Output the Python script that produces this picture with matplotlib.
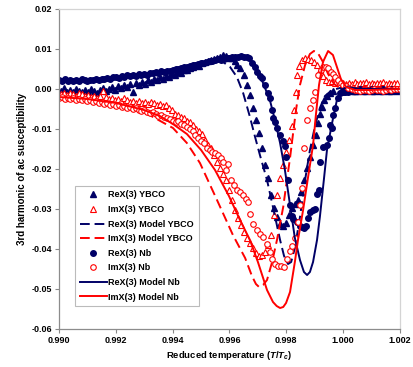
import matplotlib
matplotlib.use("Agg")
import matplotlib.pyplot as plt

plt.rcParams['font.family'] = ['Liberation Sans', 'DejaVu Sans']
plt.rcParams['font.weight'] = 'bold'
plt.rcParams['mathtext.fontset'] = 'custom'
plt.rcParams['mathtext.rm'] = 'Liberation Sans:bold'
plt.rcParams['mathtext.it'] = 'Liberation Sans:italic:bold'

# ---------------- data ----------------
# ReX(3) YBCO (filled navy triangles)
rex_ybco_t = [0.99007, 0.99018, 0.99028, 0.99039, 0.99049, 0.99060, 0.99070, 0.99081, 0.99091, 0.99102,
              0.99113, 0.99123, 0.99134, 0.99144, 0.99155, 0.99165, 0.99176, 0.99187, 0.99197, 0.99208,
              0.99218, 0.99229, 0.99239, 0.99250, 0.99260, 0.99271, 0.99282, 0.99292, 0.99303, 0.99313,
              0.99324, 0.99334, 0.99345, 0.99355, 0.99366, 0.99377, 0.99387, 0.99398, 0.99408, 0.99419,
              0.99429, 0.99440, 0.99450, 0.99461, 0.99472, 0.99482, 0.99493, 0.99503, 0.99514, 0.99524,
              0.99535, 0.99545, 0.99556, 0.99567, 0.99577, 0.99588, 0.99598, 0.99609, 0.99619, 0.99626,
              0.99637, 0.99651, 0.99662, 0.99672, 0.99683, 0.99693, 0.99704, 0.99714, 0.99725, 0.99735,
              0.99746, 0.99757, 0.99767, 0.99778, 0.99789, 0.99799, 0.99810, 0.99820, 0.99830, 0.99841,
              0.99852, 0.99862, 0.99873, 0.99883, 0.99894, 0.99904, 0.99911, 0.99918, 0.99925, 0.99932,
              0.99943, 0.99954, 0.99964,
              1.0000, 1.0001, 1.0002, 1.0003, 1.0004, 1.0005, 1.0006, 1.0007, 1.0008, 1.0009,
              1.0010, 1.0011, 1.0012, 1.0013, 1.0014, 1.0015, 1.0016, 1.0017, 1.0018, 1.0019]
rex_ybco_v = [-0.0005, 0.00025, -0.00075, -0.00025, -0.00075, 0.0, -0.0005, -0.00075, -0.00025, -0.00075,
              0.0, -0.0005, -0.001, -0.00025, 0.00025, -0.0005, 0.0, 0.0005, -0.00025, 0.00075,
              0.00025, 0.001, 0.0005, 0.00125, -0.00075, 0.0015, 0.001, 0.00175, 0.00125, 0.00225,
              0.00175, 0.0025, 0.00225, 0.003, 0.0025, 0.00325, 0.003, 0.00375, 0.0035, 0.00425,
              0.004, 0.00475, 0.00475, 0.00525, 0.0055, 0.006, 0.00575, 0.0065, 0.00675, 0.007,
              0.00725, 0.0075, 0.00775, 0.008, 0.0085, 0.00825, 0.00775, 0.00775, 0.007, 0.006,
              0.00525, 0.0035, 0.001, -0.0015, -0.00475, -0.00775, -0.011, -0.01475, -0.019, -0.02225,
              -0.0265, -0.02975, -0.032, -0.03375, -0.03425, -0.0335, -0.0315, -0.02975, -0.02875, -0.02775,
              -0.02575, -0.02275, -0.01975, -0.017, -0.014, -0.0115, -0.0085, -0.00625, -0.0045, -0.00275,
              -0.00175, -0.001, -0.0005,
              -0.0004, -0.0006, -0.0003, -0.0005, -0.0004, -0.0006, -0.0003, -0.0005, -0.0004, -0.0002,
              -0.0005, -0.0004, -0.0003, -0.0005, -0.0004, -0.0002, -0.0004, -0.0005, -0.0003, -0.0004]

# ImX(3) YBCO (open red triangles)
imx_ybco_t = [0.99007, 0.99018, 0.99028, 0.99039, 0.99049, 0.99060, 0.99070, 0.99081, 0.99091, 0.99102,
              0.99113, 0.99123, 0.99134, 0.99144, 0.99155, 0.99165, 0.99176, 0.99187, 0.99197, 0.99208,
              0.99218, 0.99229, 0.99239, 0.99250, 0.99260, 0.99271, 0.99282, 0.99292, 0.99303, 0.99313,
              0.99324, 0.99334, 0.99345, 0.99355, 0.99366, 0.99377, 0.99387, 0.99398, 0.99408, 0.99419,
              0.99429, 0.99440, 0.99450, 0.99461, 0.99472, 0.99482, 0.99493, 0.99503, 0.99514, 0.99524,
              0.99535, 0.99545, 0.99556, 0.99567, 0.99577, 0.99588, 0.99598, 0.99609, 0.99619, 0.99630,
              0.99640, 0.99651, 0.99662, 0.99672, 0.99683, 0.99693, 0.99704, 0.99714, 0.99725, 0.99735,
              0.99746, 0.99757, 0.99767, 0.99778, 0.99789, 0.99799, 0.99810, 0.99820, 0.99827, 0.99834,
              0.99838, 0.99845, 0.99855, 0.99866, 0.99876, 0.99887, 0.99897, 0.99908, 0.99918, 0.99929,
              0.99940, 0.99950, 0.99961, 0.99971,
              1.0000, 1.0001, 1.0002, 1.0003, 1.0004, 1.0005, 1.0006, 1.0007, 1.0008, 1.0009,
              1.0010, 1.0011, 1.0012, 1.0013, 1.0014, 1.0015, 1.0016, 1.0017, 1.0018, 1.0019]
imx_ybco_v = [-0.00125, -0.001, -0.0015, -0.001, -0.00125, -0.00175, -0.001, -0.00125, -0.00175, -0.0015,
              -0.002, -0.00175, -0.00225, -0.00175, -0.0005, -0.002, -0.0025, -0.00225, -0.00275, -0.0025,
              -0.003, -0.00225, -0.00275, -0.00325, -0.003, -0.0035, -0.003, -0.0035, -0.00325, -0.00375,
              -0.00325, -0.0035, -0.004, -0.00375, -0.00425, -0.004, -0.00475, -0.00525, -0.00625, -0.0065,
              -0.007, -0.00725, -0.008, -0.00825, -0.009, -0.01, -0.0105, -0.01125, -0.01275, -0.014,
              -0.01475, -0.0165, -0.01825, -0.01975, -0.02125, -0.02275, -0.02525, -0.02775, -0.03025, -0.03225,
              -0.034, -0.03575, -0.03725, -0.0385, -0.03975, -0.041, -0.04175, -0.0415, -0.04075, -0.039,
              -0.0365, -0.0315, -0.0265, -0.02225, -0.019, -0.01575, -0.01275, -0.00925, -0.00525, -0.00075,
              0.0035, 0.00575, 0.00725, 0.00775, 0.0075, 0.00725, 0.00675, 0.006, 0.00475, 0.00325,
              0.00225, 0.00175, 0.002, 0.0015,
              0.0015, 0.0012, 0.0016, 0.0013, 0.0017, 0.0012, 0.0015, 0.0014, 0.0017, 0.0013,
              0.0016, 0.0012, 0.0015, 0.0014, 0.0017, 0.0013, 0.0016, 0.0012, 0.0015, 0.0014]

# ReX(3) Model YBCO (dashed navy)
rex_model_ybco_t = [0.99000, 0.99099, 0.99201, 0.99299, 0.99401, 0.99500, 0.99549, 0.99567, 0.99602, 0.99626,
                    0.99648, 0.99672, 0.99690, 0.99707, 0.99732, 0.99753, 0.99778, 0.99792, 0.99806, 0.99817,
                    0.99830, 0.99848, 0.99866, 0.99883, 0.99901, 0.99918, 0.99936, 0.99961, 0.99989, 1.00059,
                    1.00200]
rex_model_ybco_v = [0.00175, 0.002, 0.0025, 0.00325, 0.0045, 0.0065, 0.0073, 0.00725, 0.0055, 0.003,
                    -0.001, -0.007, -0.012, -0.0165, -0.02275, -0.0295, -0.03775, -0.04175, -0.04375, -0.04325,
                    -0.03975, -0.032, -0.02275, -0.01525, -0.00925, -0.00475, -0.00175, -0.00025, 0.00025, 0.0,
                    0.0]

# ImX(3) Model YBCO (dashed red)
imx_model_ybco_t = [0.99000, 0.99099, 0.99201, 0.99299, 0.99401, 0.99450, 0.99496, 0.99556, 0.99612, 0.99655,
                    0.99679, 0.99693, 0.99704, 0.99718, 0.99732, 0.99750, 0.99767, 0.99789, 0.99802, 0.99813,
                    0.99823, 0.99834, 0.99848, 0.99866, 0.99883, 0.99897, 0.99911, 0.99929, 0.99947, 0.99968,
                    0.99989, 1.00024, 1.00094, 1.00200]
imx_model_ybco_v = [-0.002, -0.0025, -0.00375, -0.00575, -0.00975, -0.0135, -0.0185, -0.02775, -0.0365, -0.04225,
                    -0.04675, -0.04875, -0.0495, -0.049, -0.04775, -0.04325, -0.03775, -0.0295, -0.02275, -0.01725,
                    -0.0115, -0.00525, 0.001, 0.006, 0.00875, 0.0095, 0.009, 0.00675, 0.00375, 0.00125,
                    0.00025, -0.00025, -0.00025, 0.0]

# ReX(3) Nb (filled navy circles)
rex_nb_t = [0.9900, 0.9901, 0.9902, 0.9903, 0.9904, 0.9905, 0.9906, 0.9907, 0.9908, 0.9909,
            0.9910, 0.9911, 0.9912, 0.9913, 0.9914, 0.9915, 0.9916, 0.9917, 0.9918, 0.9919,
            0.9920, 0.9921, 0.9922, 0.9923, 0.9924, 0.9925, 0.9926, 0.9927, 0.9928, 0.9929,
            0.9930, 0.9931, 0.9932, 0.9933, 0.9934, 0.9935, 0.9936, 0.9937, 0.9938, 0.9939,
            0.9940, 0.9941, 0.9942, 0.9943, 0.9944, 0.9945, 0.9946, 0.9947, 0.9948, 0.9949,
            0.9950, 0.9951, 0.9952, 0.9953, 0.9954, 0.9955, 0.9956, 0.9957, 0.9958, 0.9959,
            0.9960, 0.9961, 0.9962, 0.9963, 0.9964, 0.9965, 0.9966, 0.9967, 0.9968,
            0.99690, 0.99697, 0.99707, 0.99714, 0.99725, 0.99735, 0.99742, 0.99750, 0.99753, 0.99760,
            0.99767, 0.99778, 0.99789, 0.99795, 0.99799, 0.99806, 0.99813, 0.99820, 0.99823, 0.99838,
            0.99848, 0.99855, 0.99862, 0.99869, 0.99876, 0.99883, 0.99894, 0.99901, 0.99908, 0.99915,
            0.99918, 0.99929, 0.99943, 0.99950, 0.99954, 0.99961, 0.99964, 0.99971, 0.99982, 0.99989,
            0.99999, 1.00006, 1.00017,
            1.0003, 1.0004, 1.0005, 1.0006, 1.0007, 1.0008, 1.0009, 1.0010, 1.0011, 1.0012,
            1.0013, 1.0014, 1.0015, 1.0016, 1.0017, 1.0018, 1.0019]
rex_nb_v = [0.0023, 0.0021, 0.0024, 0.0020, 0.0022, 0.0019, 0.0023, 0.0021, 0.0024, 0.0022,
            0.0020, 0.0023, 0.0022, 0.0025, 0.0023, 0.0026, 0.0024, 0.0028, 0.0026, 0.0029,
            0.0031, 0.0028, 0.0032, 0.0030, 0.0034, 0.0032, 0.0035, 0.0033, 0.0037, 0.0035,
            0.0038, 0.0036, 0.0040, 0.0039, 0.0042, 0.0040, 0.0044, 0.0043, 0.0046, 0.0045,
            0.0048, 0.0050, 0.0049, 0.0053, 0.0055, 0.0054, 0.0058, 0.0060, 0.0059, 0.0063,
            0.0065, 0.0064, 0.0068, 0.0070, 0.0069, 0.0072, 0.0074, 0.0073, 0.0076, 0.0078,
            0.0077, 0.0080, 0.0081, 0.0080, 0.0082, 0.0081, 0.0079, 0.0077, 0.0065,
            0.0055, 0.00425, 0.00325, 0.00275, 0.001, -0.001, -0.00225, -0.00525, -0.00725, -0.00825,
            -0.00975, -0.0115, -0.013, -0.01425, -0.017, -0.02275, -0.029, -0.03175, -0.0325, -0.03325,
            -0.03425, -0.0345, -0.03475, -0.03425, -0.03225, -0.03075, -0.03025, -0.03, -0.02625, -0.02525,
            -0.01825, -0.0145, -0.014, -0.01225, -0.009, -0.00975, -0.0065, -0.00475, -0.00225, -0.001,
            -0.00075, -0.00075, -0.00075,
            -0.0003, -0.0002, -0.0004, -0.0001, -0.0003, -0.0002, -0.0004, -0.0001, -0.0003, -0.0002,
            -0.0003, -0.0001, -0.0002, -0.0004, -0.0001, -0.0002, -0.0003]

# ImX(3) Nb (open red circles)
imx_nb_t = [0.9900, 0.9901, 0.9902, 0.9903, 0.9904, 0.9905, 0.9906, 0.9907, 0.9908, 0.9909,
            0.9910, 0.9911, 0.9912, 0.9913, 0.9914, 0.9915, 0.9916, 0.9917, 0.9918, 0.9919,
            0.9920, 0.9921, 0.9922, 0.9923, 0.9924, 0.9925, 0.9926, 0.9927, 0.9928, 0.9929,
            0.9930, 0.9931, 0.9932, 0.9933, 0.9934, 0.9935, 0.9936, 0.9937, 0.9938, 0.9939,
            0.9940, 0.9941, 0.9942, 0.9943, 0.9944, 0.9945, 0.9946, 0.9947, 0.9948, 0.9949,
            0.9950, 0.9951, 0.9952, 0.9953, 0.9954, 0.9955, 0.9956, 0.9957,
            0.99577, 0.99588, 0.99595, 0.99605, 0.99616, 0.99626, 0.99637, 0.99647, 0.99658, 0.99665,
            0.99672, 0.99683, 0.99697, 0.99707, 0.99718, 0.99732, 0.99742, 0.99750, 0.99760, 0.99771,
            0.99781, 0.99792, 0.99802, 0.99813, 0.99820, 0.99830, 0.99841, 0.99848, 0.99855, 0.99862,
            0.99873, 0.99883, 0.99894, 0.99901, 0.99911, 0.99922, 0.99929, 0.99940, 0.99947, 0.99957,
            0.99964, 0.99971, 0.99982, 0.99992, 0.99999, 1.00010, 1.00017,
            1.0003, 1.0004, 1.0005, 1.0006, 1.0007, 1.0008, 1.0009, 1.0010, 1.0011, 1.0012,
            1.0013, 1.0014, 1.0015, 1.0016, 1.0017, 1.0018, 1.0019, 1.0020]
imx_nb_v = [-0.00225, -0.002, -0.0025, -0.00225, -0.0025, -0.00225, -0.00275, -0.0025, -0.00275, -0.0025,
            -0.003, -0.00275, -0.00325, -0.003, -0.0035, -0.00325, -0.00375, -0.0035, -0.004, -0.00375,
            -0.00425, -0.004, -0.0045, -0.00425, -0.00475, -0.0045, -0.005, -0.00475, -0.00525, -0.0055,
            -0.00525, -0.00575, -0.006, -0.00575, -0.00625, -0.00675, -0.0065, -0.007, -0.00725, -0.0075,
            -0.008, -0.00825, -0.008, -0.00875, -0.009, -0.0095, -0.01, -0.0105, -0.0115, -0.01225,
            -0.013, -0.0135, -0.01475, -0.01525, -0.01575, -0.016, -0.0165, -0.01725,
            -0.01825, -0.02025, -0.01875, -0.02275, -0.024, -0.02525, -0.02575, -0.0265, -0.0275, -0.02825,
            -0.03125, -0.03375, -0.03525, -0.03625, -0.037, -0.03875, -0.04075, -0.0425, -0.04375, -0.04425,
            -0.04425, -0.0445, -0.0425, -0.0405, -0.03925, -0.03725, -0.03325, -0.029, -0.02475, -0.01475,
            -0.00775, -0.00475, -0.00275, -0.00075, 0.0035, 0.00475, 0.0055, 0.0055, 0.00525, 0.00425,
            0.00375, 0.003, 0.00225, 0.0015, 0.001, 0.00075, 0.00025,
            0.0, -0.0003, -0.0002, -0.0004, -0.0003, -0.0002, -0.0004, -0.0003, -0.0001, -0.0003,
            -0.0002, -0.0004, -0.0002, -0.0001, -0.0002, 0.0, 0.0001, 0.0]

# ReX(3) Model Nb (solid navy)
rex_model_nb_t = [0.99000, 0.99099, 0.99201, 0.99299, 0.99401, 0.99500, 0.99567, 0.99612, 0.99648, 0.99672,
                  0.99697, 0.99718, 0.99742, 0.99760, 0.99778, 0.99795, 0.99813, 0.99830, 0.99848, 0.99862,
                  0.99873, 0.99883, 0.99894, 0.99908, 0.99918, 0.99932, 0.99943, 0.99961, 0.99978, 0.99992,
                  1.00013, 1.00059, 1.00200]
rex_model_nb_v = [0.002, 0.00225, 0.00275, 0.0035, 0.00475, 0.00625, 0.0075, 0.00825, 0.00825, 0.00725,
                  0.005, 0.0015, -0.00275, -0.00775, -0.0135, -0.02025, -0.029, -0.03725, -0.04275, -0.04575,
                  -0.0465, -0.04575, -0.04325, -0.03775, -0.032, -0.02275, -0.01525, -0.0085, -0.00275, -0.00025,
                  0.0005, 0.0, 0.0]

# ImX(3) Model Nb (solid red)
imx_model_nb_t = [0.99000, 0.99099, 0.99201, 0.99299, 0.99355, 0.99401, 0.99450, 0.99500, 0.99549, 0.99598,
                  0.99637, 0.99672, 0.99700, 0.99732, 0.99753, 0.99766, 0.99778, 0.99789, 0.99799, 0.99813,
                  0.99830, 0.99841, 0.99859, 0.99876, 0.99894, 0.99904, 0.99915, 0.99929, 0.99947, 0.99964,
                  0.99978, 0.99992, 1.00010, 1.00042, 1.00094, 1.00200]
imx_model_nb_v = [-0.002, -0.0025, -0.0035, -0.00525, -0.00675, -0.00875, -0.01125, -0.01525, -0.02025, -0.02675,
                  -0.03275, -0.03775, -0.04325, -0.05025, -0.05325, -0.05425, -0.05475, -0.0545, -0.0535, -0.05075,
                  -0.04325, -0.03775, -0.03025, -0.02225, -0.014, -0.0065, 0.001, 0.00675, 0.0095, 0.0085,
                  0.0055, 0.0025, 0.0005, -0.00025, -0.00025, 0.0]

x_ticks = [0.990, 0.992, 0.994, 0.996, 0.998, 1.000, 1.002]
y_ticks = [0.02, 0.01, 0.00, -0.01, -0.02, -0.03, -0.04, -0.05, -0.06]

# ---------------- plot ----------------
NAVY = '#000066'
RED = '#FF0000'

fig = plt.figure(figsize=(4.14, 3.67), dpi=100)
ax = fig.add_axes([59/414, 1-329/367, 341/414, 320/367])

ms = 4.0
ax.plot(rex_ybco_t, rex_ybco_v, ls='none', marker='^', ms=ms, color=NAVY, mec=NAVY,
        label='ReX(3) YBCO')
ax.plot(imx_ybco_t, imx_ybco_v, ls='none', marker='^', ms=ms, mfc='white', mec=RED, mew=0.8,
        label='ImX(3) YBCO')
ax.plot(rex_model_ybco_t, rex_model_ybco_v, color=NAVY, lw=1.4, dashes=(5, 2.5),
        label='ReX(3) Model YBCO')
ax.plot(imx_model_ybco_t, imx_model_ybco_v, color=RED, lw=1.4, dashes=(5, 2.5),
        label='ImX(3) Model YBCO')
ax.plot(rex_nb_t, rex_nb_v, ls='none', marker='o', ms=ms, color=NAVY, mec=NAVY,
        label='ReX(3) Nb')
ax.plot(imx_nb_t, imx_nb_v, ls='none', marker='o', ms=ms, mfc='white', mec=RED, mew=0.8,
        label='ImX(3) Nb')
ax.plot(rex_model_nb_t, rex_model_nb_v, color=NAVY, lw=1.4, label='ReX(3) Model Nb')
ax.plot(imx_model_nb_t, imx_model_nb_v, color=RED, lw=1.4, label='ImX(3) Model Nb')

ax.set_xlim(0.990, 1.002)
ax.set_ylim(-0.06, 0.02)
ax.set_xticks(x_ticks)
ax.set_xticklabels([f'{v:.3f}' for v in x_ticks])
ax.set_yticks(y_ticks)
ax.set_yticklabels([f'{v:.2f}' if v != 0 else '0.00' for v in y_ticks])
ax.tick_params(axis='both', labelsize=6.5, length=3, width=0.8, color='#888888', pad=2)
for lab in ax.get_xticklabels() + ax.get_yticklabels():
    lab.set_fontweight('bold')

for s in ['left', 'bottom']:
    ax.spines[s].set_color('#8c8c8c')
    ax.spines[s].set_linewidth(0.9)
for s in ['top', 'right']:
    ax.spines[s].set_color('#d4d4d4')
    ax.spines[s].set_linewidth(0.9)

ax.set_xlabel(r'Reduced temperature ($T$/$T_{c}$)', fontsize=6.8, fontweight='bold', labelpad=3)
ax.set_ylabel('3rd harmonic of ac susceptibility', fontsize=7, fontweight='bold', labelpad=3)

leg = ax.legend(loc='upper left', bbox_to_anchor=(0.047, 0.447),
                prop={'weight': 'bold', 'size': 6.5}, frameon=True, fancybox=False,
                edgecolor='#bbbbbb', framealpha=1, handlelength=3.0, handletextpad=0.2,
                labelspacing=0.62, borderpad=0.5, borderaxespad=0, numpoints=1)
leg.get_frame().set_linewidth(0.8)

fig.savefig('out.png', dpi=100)
